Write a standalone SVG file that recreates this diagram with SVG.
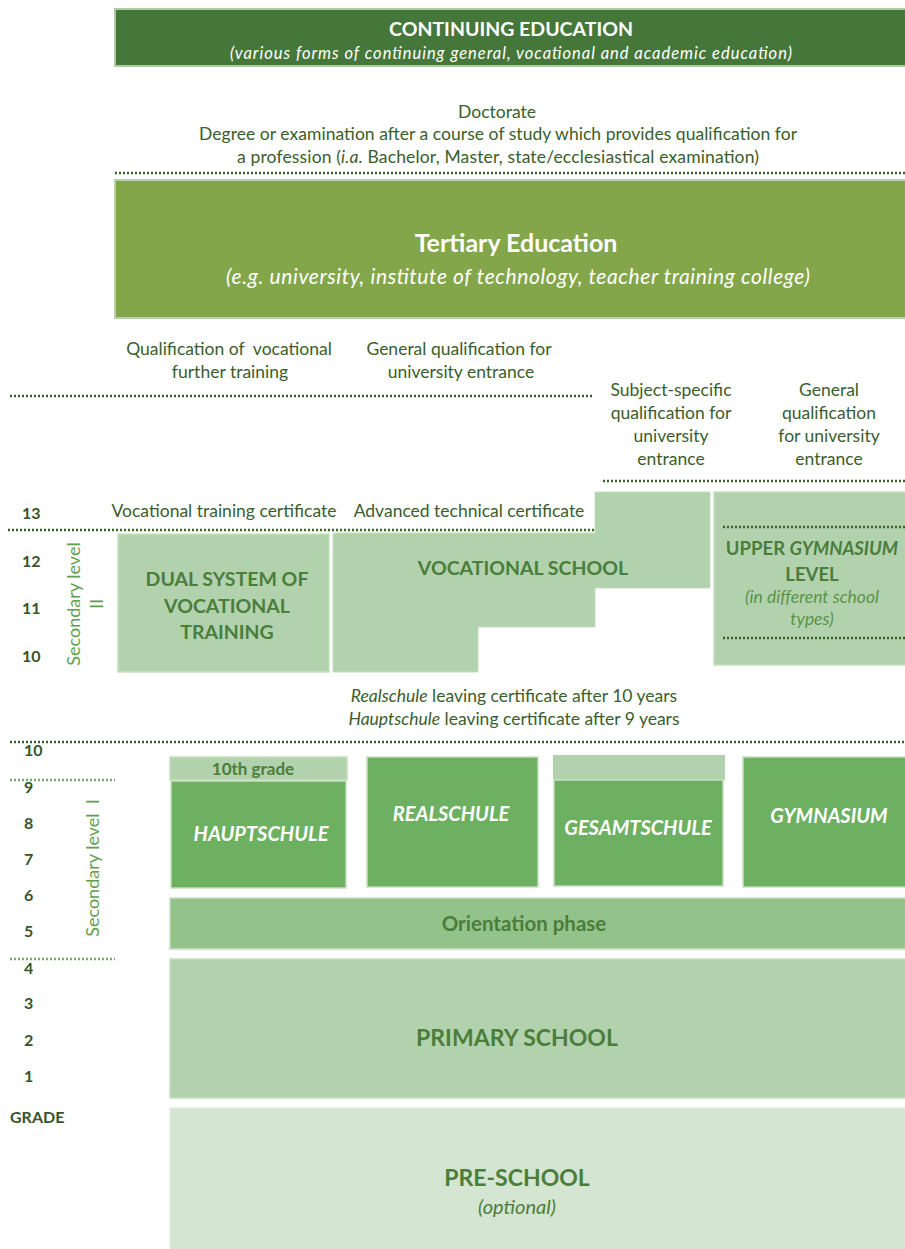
<svg xmlns="http://www.w3.org/2000/svg" width="905" height="1249" viewBox="0 0 905 1249">
<style>
text{font-family:Lato,"Liberation Sans",sans-serif;}
.lbl{fill:#3a5e2c;font-size:17.5px;text-anchor:middle;}
.gr{fill:#34562a;font-size:16px;font-weight:bold;}
.bx{stroke:#c6dfc0;stroke-width:1.5;}
.light{fill:#b2d2ad;}
.mid{fill:#6eb062;}
.t-dark{fill:#4b7d3b;font-weight:bold;text-anchor:middle;}
.t-white{fill:#ffffff;font-weight:bold;font-style:italic;text-anchor:middle;font-size:20px;}
.dot{stroke:#3a5e2c;stroke-width:2.5;stroke-dasharray:2 2;fill:none;}
.dotl{stroke:#6eb062;stroke-width:2.5;stroke-dasharray:2 2;fill:none;}
.sec{fill:#5fa04f;font-size:18px;text-anchor:middle;}
</style>
<rect width="905" height="1249" fill="#ffffff"/>

<g id="continuing-education">
<rect x="115" y="9" width="792" height="57" fill="#46773a" stroke="#a9cfa0" stroke-width="2"/>
<text x="511" y="36" fill="#fff" font-size="19.5" font-weight="bold" text-anchor="middle">CONTINUING EDUCATION</text>
<text x="511" y="59" fill="#fff" font-size="16.5" font-style="italic" text-anchor="middle" textLength="562">(various forms of continuing general, vocational and academic education)</text>
</g>

<g id="degree-labels">
<text class="lbl" x="497" y="118">Doctorate</text>
<text class="lbl" x="498" y="140" textLength="598">Degree or examination after a course of study which provides qualification for</text>
<text class="lbl" x="498" y="163" textLength="522">a profession (<tspan font-style="italic">i.a.</tspan> Bachelor, Master, state/ecclesiastical examination)</text>
</g>

<g id="tertiary-education">
<rect x="115" y="180" width="792" height="138" fill="#84a64b" stroke="#b7d2a8" stroke-width="2"/>
<text x="516" y="252" fill="#fff" font-size="25" font-weight="bold" text-anchor="middle">Tertiary Education</text>
<text x="518" y="284" fill="#fff" font-size="21" font-style="italic" text-anchor="middle" textLength="584">(e.g. university, institute of technology, teacher training college)</text>
</g>

<g id="qualification-labels">
<text class="lbl" x="229" y="355" xml:space="preserve">Qualification of  vocational</text>
<text class="lbl" x="230" y="378">further training</text>
<text class="lbl" x="459" y="355">General qualification for</text>
<text class="lbl" x="461" y="378">university entrance</text>
<text class="lbl" x="671" y="396">Subject-specific</text>
<text class="lbl" x="671" y="419">qualification for</text>
<text class="lbl" x="671" y="442">university</text>
<text class="lbl" x="671" y="465">entrance</text>
<text class="lbl" x="829" y="396">General</text>
<text class="lbl" x="829" y="419">qualification</text>
<text class="lbl" x="829" y="442">for university</text>
<text class="lbl" x="829" y="465">entrance</text>
<text class="lbl" x="224" y="517">Vocational training certificate</text>
<text class="lbl" x="469" y="517">Advanced technical certificate</text>
</g>

<g id="connectors">
<line class="dot" x1="115" y1="173" x2="905" y2="173"/>
<line class="dot" x1="10" y1="396" x2="592" y2="396"/>
<line class="dot" x1="603" y1="481" x2="905" y2="481"/>
<line class="dot" x1="8" y1="530" x2="596" y2="530"/>
<line class="dot" x1="10" y1="742" x2="905" y2="742"/>
<line class="dotl" x1="10" y1="780" x2="115" y2="780"/>
<line class="dotl" x1="10" y1="959" x2="115" y2="959"/>
</g>

<g id="grades">
<text class="gr" x="22" y="519">13</text>
<text class="gr" x="22" y="567">12</text>
<text class="gr" x="22" y="614">11</text>
<text class="gr" x="22" y="662">10</text>
<text class="gr" x="24" y="756">10</text>
<text class="gr" x="24" y="793">9</text>
<text class="gr" x="24" y="829">8</text>
<text class="gr" x="24" y="865">7</text>
<text class="gr" x="24" y="901">6</text>
<text class="gr" x="24" y="937">5</text>
<text class="gr" x="24" y="974">4</text>
<text class="gr" x="24" y="1009">3</text>
<text class="gr" x="24" y="1046">2</text>
<text class="gr" x="24" y="1082">1</text>
<text class="gr" x="10" y="1123" font-size="13">GRADE</text>
</g>

<g id="secondary-level-2">
<text class="sec" transform="translate(80,604) rotate(-90)">Secondary level</text>
<text class="sec" transform="translate(103,604) rotate(-90)">II</text>
</g>

<g id="dual-system">
<rect class="bx light" x="118" y="534" width="211" height="138"/>
<text class="t-dark" x="227" y="586" font-size="19.5">DUAL SYSTEM OF</text>
<text class="t-dark" x="227" y="613" font-size="19.5">VOCATIONAL</text>
<text class="t-dark" x="227" y="639" font-size="19.5">TRAINING</text>
</g>

<g id="vocational-school">
<polygon class="light" points="333,533 595,533 595,492 710,492 710,588 595,588 595,627 478,627 478,672 333,672" stroke="#c6dfc0" stroke-width="1"/>
<text class="t-dark" x="523" y="575" font-size="19.5">VOCATIONAL SCHOOL</text>
</g>

<g id="upper-gymnasium">
<rect class="bx light" x="714" y="492" width="193" height="173"/>
<line class="dot" x1="723" y1="527" x2="905" y2="527"/>
<line class="dot" x1="723" y1="638" x2="905" y2="638"/>
<text class="t-dark" x="812" y="555" font-size="18.5">UPPER <tspan font-style="italic">GYMNASIUM</tspan></text>
<text class="t-dark" x="812" y="581" font-size="18.5">LEVEL</text>
<text x="812" y="603" fill="#5a9249" font-size="17.5" font-style="italic" text-anchor="middle">(in different school</text>
<text x="812" y="625" fill="#5a9249" font-size="17.5" font-style="italic" text-anchor="middle">types)</text>
</g>

<g id="leaving-certificates">
<text class="lbl" x="514" y="702"><tspan font-style="italic">Realschule</tspan> leaving certificate after 10 years</text>
<text class="lbl" x="514" y="725"><tspan font-style="italic">Hauptschule</tspan> leaving certificate after 9 years</text>
</g>

<g id="secondary-level-1">
<text class="sec" transform="translate(99,868) rotate(-90)" xml:space="preserve">Secondary level  I</text>
</g>

<g id="hauptschule">
<rect class="bx light" x="170" y="757" width="177" height="23"/>
<text class="t-dark" x="253" y="775" font-size="17">10th grade</text>
<rect class="bx mid" x="171" y="781" width="175" height="107"/>
<text class="t-white" x="261" y="841">HAUPTSCHULE</text>
</g>

<g id="realschule">
<rect class="bx mid" x="367" y="757" width="171" height="130"/>
<text class="t-white" x="451" y="821">REALSCHULE</text>
</g>

<g id="gesamtschule">
<rect x="553" y="755" width="172" height="25" fill="#b2d2ad"/>
<rect class="bx mid" x="554" y="780" width="169" height="106"/>
<text class="t-white" x="638" y="835" font-size="18">GESAMTSCHULE</text>
</g>

<g id="gymnasium">
<rect class="bx mid" x="743" y="757" width="164" height="130"/>
<text class="t-white" x="829" y="823" font-size="21">GYMNASIUM</text>
</g>

<g id="orientation-phase">
<rect class="bx" x="170" y="898" width="737" height="51" fill="#93c38b"/>
<text class="t-dark" x="524" y="931" font-size="20.5">Orientation phase</text>
</g>

<g id="primary-school">
<rect class="bx light" x="170" y="959" width="737" height="139"/>
<text class="t-dark" x="517" y="1046" font-size="23">PRIMARY SCHOOL</text>
</g>

<g id="pre-school">
<rect x="170" y="1108" width="737" height="145" fill="#d4e5d1" stroke="#e2eee0" stroke-width="1.5"/>
<text class="t-dark" x="517" y="1186" font-size="23">PRE-SCHOOL</text>
<text x="517" y="1214" fill="#4b7d3b" font-size="20" font-style="italic" text-anchor="middle">(optional)</text>
</g>
</svg>
